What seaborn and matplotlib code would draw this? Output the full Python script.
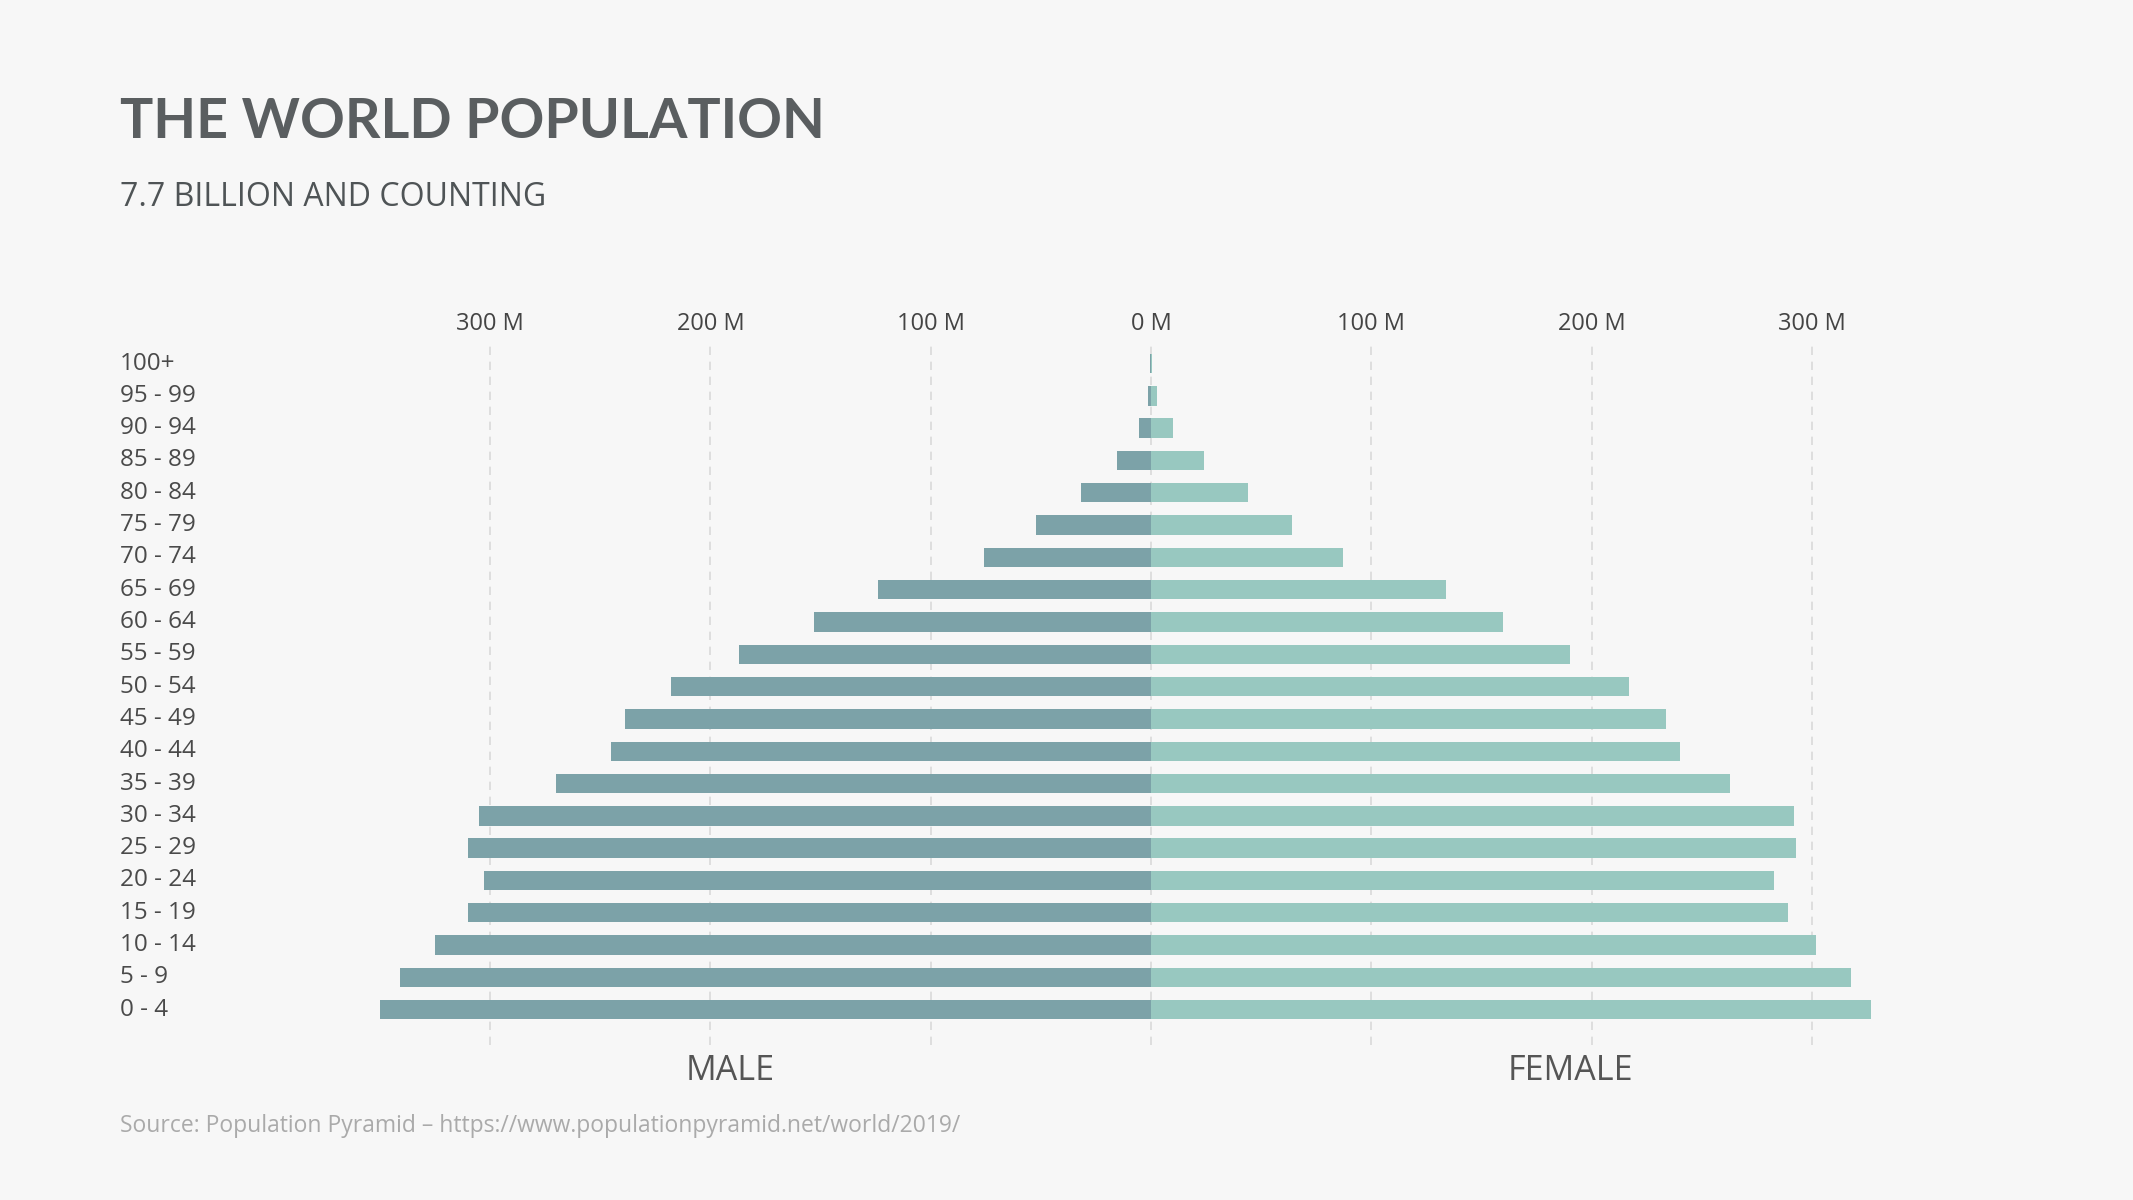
import numpy as np
import pandas as pd
import matplotlib.pyplot as plt
import matplotlib.transforms as mtransforms
import seaborn as sns

# data (millions)
age_groups = ['100+', '95 - 99', '90 - 94', '85 - 89', '80 - 84', '75 - 79', '70 - 74',
              '65 - 69', '60 - 64', '55 - 59', '50 - 54', '45 - 49', '40 - 44', '35 - 39',
              '30 - 34', '25 - 29', '20 - 24', '15 - 19', '10 - 14', '5 - 9', '0 - 4']
male = [0.3, 1.2, 5.6, 15.5, 32, 52, 76, 124, 153, 187, 218, 239, 245, 270,
        305, 310, 303, 310, 325, 341, 350]
female = [0.6, 2.8, 10, 24, 44, 64, 87, 134, 160, 190, 217, 234, 240, 263,
          292, 293, 283, 289, 302, 318, 327]
ticks = [-300, -200, -100, 0, 100, 200, 300]
tick_labels = ['300 M', '200 M', '100 M', '0 M', '100 M', '200 M', '300 M']

df = pd.DataFrame({'age': age_groups, 'male': male, 'female': female})
df['male_neg'] = -df['male']

bg = '#f7f7f7'
c_male = '#7ca2a8'
c_female = '#98c8c0'

sns.set_style('white')
plt.rcParams['font.family'] = ['Open Sans', 'DejaVu Sans']

fig = plt.figure(figsize=(21.33, 12), dpi=100, facecolor=bg)
ax = fig.add_axes([0.172, 0.129, 0.7146, 0.585], facecolor=bg)

sns.barplot(data=df, x='male_neg', y='age', order=age_groups, color=c_male,
            orient='h', width=0.6, saturation=1, linewidth=0, ax=ax)
sns.barplot(data=df, x='female', y='age', order=age_groups, color=c_female,
            orient='h', width=0.6, saturation=1, linewidth=0, ax=ax)

ax.set_xlim(-356, 336)
ax.set_ylim(21.1, -0.63)
ax.set_xticks(ticks)
ax.set_xticklabels(tick_labels)
ax.xaxis.tick_top()
ax.tick_params(axis='x', length=0, pad=5, labelsize=17, labelcolor='#444444')
ax.set_xlabel('')
ax.set_ylabel('')
ax.set_yticks([])
for s in ax.spines.values():
    s.set_visible(False)
ax.grid(False)
for t in ticks:
    ax.axvline(t, color='#d9d9d9', lw=1.2, ls=(0, (5, 4)), zorder=0)

# age labels, left aligned at the page margin
trans = mtransforms.blended_transform_factory(fig.transFigure, ax.transData)
for i, lab in enumerate(age_groups):
    ax.text(120 / 2133, i, lab, transform=trans, fontsize=17.5, color='#4a4a4a',
            va='center', ha='left', clip_on=False)

fig.text(120 / 2133, 1 - 122 / 1200, 'THE WORLD POPULATION', fontsize=40, fontweight='bold',
         color='#5a5e60', ha='left', va='center', family=['Lato', 'DejaVu Sans'])
fig.text(120 / 2133, 1 - 198 / 1200, '7.7 BILLION AND COUNTING', fontsize=23,
         color='#4f5456', ha='left', va='center')

fig.text(730 / 2133, 1 - 1071 / 1200, 'MALE', fontsize=24.5, color='#555555', ha='center', va='center')
fig.text(1570 / 2133, 1 - 1071 / 1200, 'FEMALE', fontsize=24.5, color='#555555', ha='center', va='center')

fig.text(120 / 2133, 1 - 1126 / 1200,
         'Source: Population Pyramid \u2013 https://www.populationpyramid.net/world/2019/',
         fontsize=16.5, color='#aaaaaa', ha='left', va='center')

fig.savefig('out.png', dpi=100, facecolor=bg)
